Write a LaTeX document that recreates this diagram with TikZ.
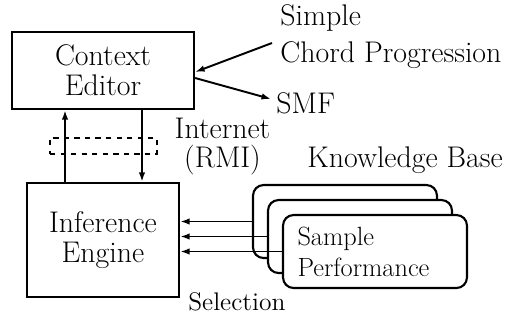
\documentclass[tikz,border=0pt]{standalone}
\usepackage{tikz}
\usetikzlibrary{arrows.meta}

\begin{document}
\begin{tikzpicture}[x=0.02cm,y=-0.02cm,
    every node/.style={font=\fontsize{17}{17}\selectfont},
    module/.style={draw, line width=1.3pt, align=center},
    kbbox/.style={draw, fill=white, line width=1.2pt, rounded corners=6pt,
      minimum width=3.68cm, minimum height=1.46cm},
    link/.style={line width=1.1pt, -{Latex[length=0.19cm,width=0.13cm]}}]
    \useasboundingbox (0,0) rectangle (521,322);
    % modules
    \node[module, minimum width=3.64cm, minimum height=1.54cm] (ctx) at (103,70.5) {Context\\Editor};
    \node[module, minimum width=3.04cm, minimum height=2.28cm] (eng) at (103,240) {Inference\\Engine};
    \node[draw, dashed, line width=0.8pt, minimum width=2.14cm, minimum height=0.32cm] (rmi) at (103.5,146) {};
    % knowledge base
    \node[kbbox] (kb1) at (345,221.5) {};
    \node[kbbox] (kb2) at (360,236.5) {};
    \node[kbbox, text width=3.1cm, align=left, inner xsep=0.29cm,
      font=\fontsize{15}{17.6}\selectfont] (kb3) at (375,251.5) {Sample\\Performance};
    % labels
    \node[anchor=north west, inner sep=0, align=left] (chord) at (280,4.2) {Simple\\[4pt]Chord Progression};
    \node[anchor=base west, inner sep=0] (smf) at (276,113) {SMF};
    \node[anchor=north, inner sep=0, align=center, font=\fontsize{17}{16.5}\selectfont] (net) at (222.5,117.5) {Internet\\(RMI)};
    \node[anchor=base west, inner sep=0] (kb) at (307,167) {Knowledge Base};
    \node[anchor=base west, inner sep=0, font=\fontsize{14.5}{17}\selectfont] (sel) at (188,310) {Selection};
    \coordinate (cpin) at (272,43);
    \coordinate (smfin) at (271,99);
    % connectors
    \draw[link] (cpin) -- ([yshift=-0.03cm]ctx.east);
    \draw[link] ([yshift=-0.15cm]ctx.east) -- (smfin);
    \draw[link] ([xshift=-0.76cm]eng.north) -- ([xshift=-0.76cm]ctx.south);
    \draw[link] ([xshift=0.78cm]ctx.south) -- ([xshift=0.78cm]eng.north);
    \draw[link] (kb1.west) -- (kb1.west -| eng.east);
    \draw[link] (kb2.west) -- (kb2.west -| eng.east);
    \draw[link] (kb3.west) -- (kb3.west -| eng.east);
\end{tikzpicture}
\end{document}
